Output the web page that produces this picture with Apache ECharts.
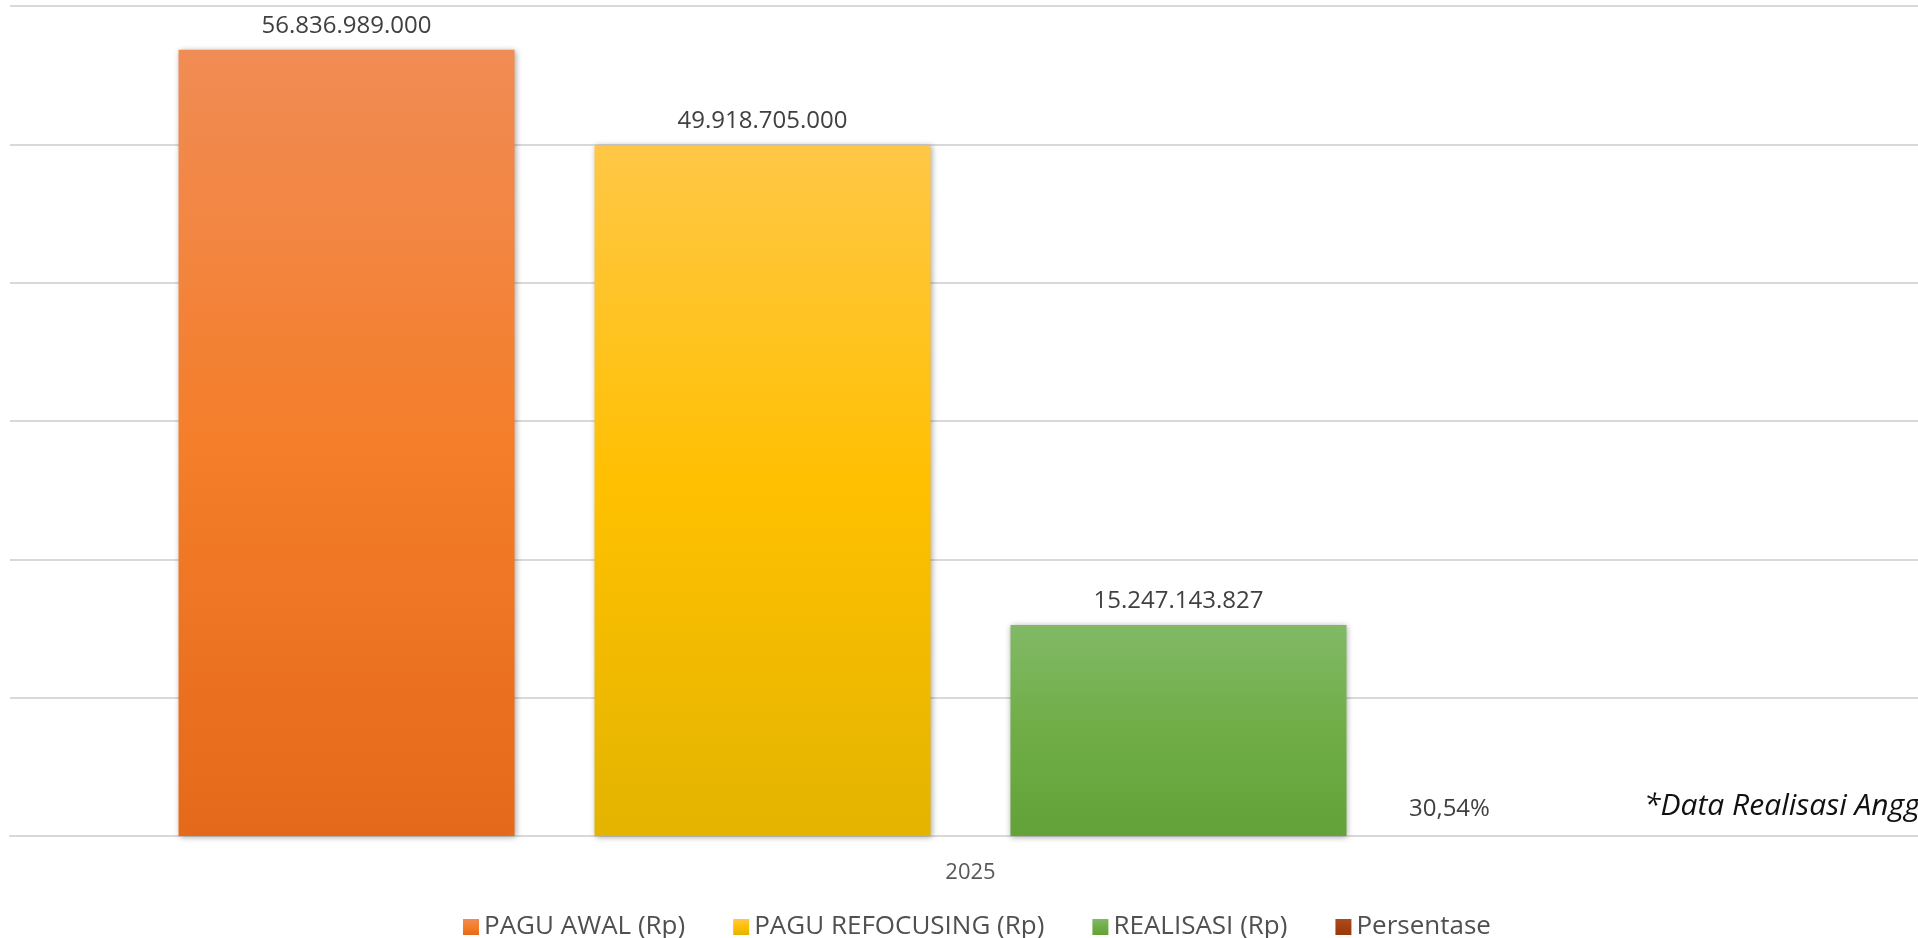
<!DOCTYPE html>
<html>
<head>
<meta charset="utf-8">
<script src="https://cdn.jsdelivr.net/npm/echarts@6/dist/echarts.min.js"></script>
<style>html,body{margin:0;padding:0;background:#fff}#c{width:1918px;height:938px}</style>
</head>
<body>
<div id="c"></div>
<script>
const categories = ['2025'];
const seriesNames = ['PAGU AWAL (Rp)', 'PAGU REFOCUSING (Rp)', 'REALISASI (Rp)', 'Persentase'];
const paguAwal = [56836989000];
const paguRefocusing = [49918705000];
const realisasi = [15247143827];
const persentase = [30.54];
const note = '*Data Realisasi Anggaran';

const FONT = '"Open Sans", "Noto Sans", sans-serif';
function grad(top, mid, bot) {
  return new echarts.graphic.LinearGradient(0, 0, 0, 1, [
    {offset: 0, color: top}, {offset: 0.5, color: mid}, {offset: 1, color: bot}
  ]);
}
function fmtNum(v) {
  return String(Math.round(v)).replace(/\B(?=(\d{3})+(?!\d))/g, '.');
}
const shadow = {shadowBlur: 6, shadowColor: 'rgba(0,0,0,0.35)', shadowOffsetX: 1, shadowOffsetY: 1};
const labelBase = {show: true, position: 'top', distance: 12, color: '#404040', fontSize: 24, fontFamily: FONT};
const yMax = 60000000000, yStep = 10000000000;

const chart = echarts.init(document.getElementById('c'));
chart.setOption({
  animation: false,
  grid: [
    {left: 10, right: 0, top: 6, bottom: 102},
    {left: 23, right: 0, top: 6, bottom: 102}
  ],
  legend: {
    left: 458, top: 909, itemWidth: 16, itemHeight: 16, itemGap: 48,
    icon: 'rect',
    textStyle: {color: '#505050', fontSize: 26, fontFamily: FONT},
    data: seriesNames
  },
  xAxis: [
    {type: 'category', gridIndex: 0, data: categories,
     axisLine: {lineStyle: {color: '#D9D9D9', width: 2}},
     axisTick: {show: false}, axisLabel: {show: false}},
    {type: 'category', gridIndex: 1, data: categories,
     axisLine: {show: false}, axisTick: {show: false},
     axisLabel: {color: '#595959', fontSize: 22, fontFamily: FONT, margin: 26}}
  ],
  yAxis: [
    {type: 'value', gridIndex: 0, min: 0, max: yMax, interval: yStep,
     axisLabel: {show: false}, axisLine: {show: false}, axisTick: {show: false},
     splitLine: {lineStyle: {color: '#D9D9D9', width: 2}}},
    {type: 'value', gridIndex: 1, min: 0, max: yMax, interval: yStep,
     axisLabel: {show: false}, axisLine: {show: false}, axisTick: {show: false},
     splitLine: {show: false}}
  ],
  series: [
    {name: seriesNames[0], type: 'bar', xAxisIndex: 1, yAxisIndex: 1, data: paguAwal, barWidth: 336, barGap: '23.8%',
     itemStyle: Object.assign({color: grad('#F18C55', '#F47E2A', '#E5691A')}, shadow),
     label: Object.assign({formatter: p => fmtNum(p.value)}, labelBase)},
    {name: seriesNames[1], type: 'bar', xAxisIndex: 1, yAxisIndex: 1, data: paguRefocusing, barWidth: 336, barGap: '23.8%',
     itemStyle: Object.assign({color: grad('#FFC746', '#FFC000', '#E3B400')}, shadow),
     label: Object.assign({formatter: p => fmtNum(p.value)}, labelBase)},
    {name: seriesNames[2], type: 'bar', xAxisIndex: 1, yAxisIndex: 1, data: realisasi, barWidth: 336, barGap: '23.8%',
     itemStyle: Object.assign({color: grad('#81B966', '#70AD47', '#62A238')}, shadow),
     label: Object.assign({formatter: p => fmtNum(p.value)}, labelBase)},
    {name: seriesNames[3], type: 'bar', xAxisIndex: 1, yAxisIndex: 1, data: persentase, barWidth: 336, barGap: '23.8%',
     itemStyle: {color: grad('#AE4A1F', '#A3410F', '#993A08')},
     label: Object.assign({}, labelBase, {distance: 15, offset: [-145, 0],
       formatter: p => p.value.toFixed(2).replace('.', ',') + '%'})}
  ],
  graphic: [{
    type: 'text', left: 1644, top: 791,
    style: {text: note, fill: '#111111', font: 'italic 30px ' + FONT}
  }]
});
</script>
</body>
</html>
